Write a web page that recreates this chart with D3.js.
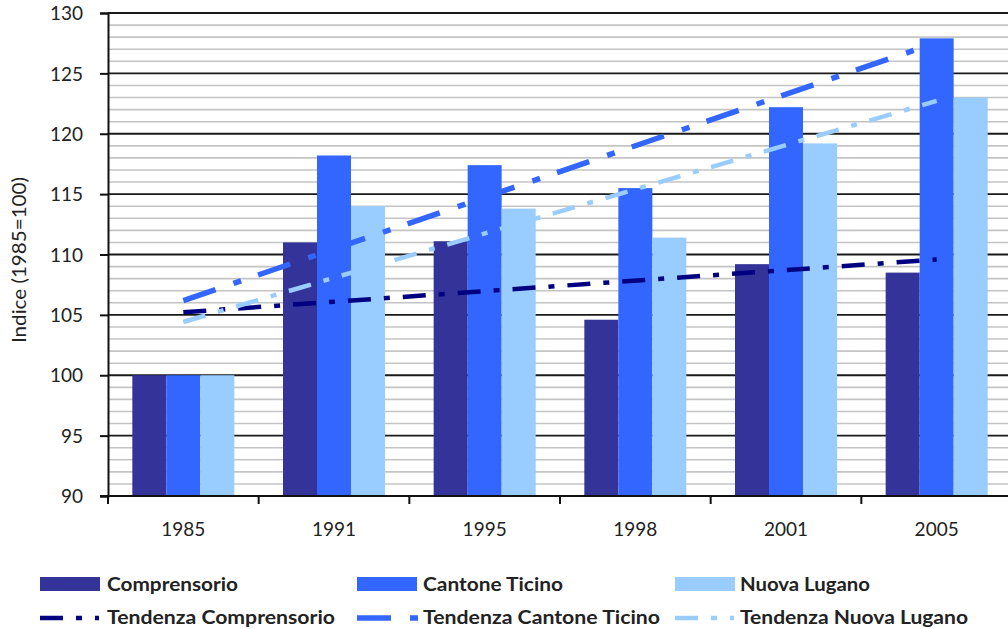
<!DOCTYPE html>
<html>
<head>
<meta charset="utf-8">
<script src="https://cdn.jsdelivr.net/npm/d3@7"></script>
<style>
  html, body { margin: 0; padding: 0; background: #fff; }
  svg { display: block; }
  text { font-family: "Lato", "Open Sans", sans-serif; fill: #222; }
</style>
</head>
<body>
<svg id="chart" width="1008" height="629"></svg>
<script>
// Index values, 1985 = 100
const years = ["1985", "1991", "1995", "1998", "2001", "2005"];
const seriesNames = ["Comprensorio", "Cantone Ticino", "Nuova Lugano"];
const comprensorio = [100, 111.0, 111.1, 104.6, 109.2, 108.5];
const cantoneTicino = [100, 118.2, 117.4, 115.5, 122.2, 127.9];
const nuovaLugano = [100, 114.0, 113.8, 111.4, 119.2, 123.0];
const yTicks = [90, 95, 100, 105, 110, 115, 120, 125, 130];

const seriesValues = [comprensorio, cantoneTicino, nuovaLugano];
const barColors = ["#333399", "#3366FF", "#99CCFF"];
const trendColors = ["#000080", "#3366FF", "#99CCFF"];
const trendWidths = [4.5, 5.5, 4.5];
const trendDash = ["23 13 6 13", "34 19 8 18", "23 13 6 13"];

const svg = d3.select("#chart");
const plotLeft = 108, plotRight = 1012, plotTop = 13, plotBottom = 496;

const x = d3.scaleBand().domain(years).range([plotLeft, plotRight]).paddingInner(0).paddingOuter(0);
const bw = x.bandwidth();
const xs = d3.scaleBand().domain(seriesNames).range([bw * 0.1615, bw * 0.8385]).padding(0);
const y = d3.scaleLinear().domain([90, 130]).range([plotBottom, plotTop]);

// Minor grid every unit, major grid on labelled ticks
const minor = d3.range(91, 130).filter(v => v % 5 !== 0);
svg.append("g").selectAll("line").data(minor).join("line")
  .attr("x1", plotLeft).attr("x2", 1008)
  .attr("y1", d => y(d)).attr("y2", d => y(d))
  .attr("stroke", "#c4c4c4").attr("stroke-width", 1.6);
svg.append("g").selectAll("line").data(yTicks.filter(v => v > 90)).join("line")
  .attr("x1", plotLeft).attr("x2", 1008)
  .attr("y1", d => y(d)).attr("y2", d => y(d))
  .attr("stroke", "#1a1a1a").attr("stroke-width", 1.8);

// Bars
const bars = svg.append("g");
seriesValues.forEach((vals, si) => {
  bars.append("g").selectAll("rect").data(years).join("rect")
    .attr("x", (d) => x(d) + xs(seriesNames[si]))
    .attr("width", xs.bandwidth())
    .attr("y", (d, i) => y(vals[i]))
    .attr("height", (d, i) => y(90) - y(vals[i]))
    .attr("fill", barColors[si]);
});

// Axes
const yAxis = d3.axisLeft(y).tickValues(yTicks).tickSize(8).tickPadding(17);
const gy = svg.append("g").attr("transform", `translate(${plotLeft},0)`).call(yAxis);
gy.select(".domain").attr("stroke", "#111").attr("stroke-width", 2);
gy.selectAll(".tick line").attr("stroke", "#111").attr("stroke-width", 2);
gy.selectAll(".tick text").attr("font-size", 19).attr("fill", "#2a2a2a")
  .style("font-family", "Lato, sans-serif").attr("dy", "0.35em");

const xAxisG = svg.append("g").attr("transform", `translate(0,${plotBottom})`);
xAxisG.append("line").attr("x1", 100).attr("x2", 1008).attr("y1", 0).attr("y2", 0)
  .attr("stroke", "#111").attr("stroke-width", 2);
xAxisG.selectAll(".xt").data(years).join("line").attr("class", "xt")
  .attr("x1", d => x(d)).attr("x2", d => x(d)).attr("y1", 0).attr("y2", 8)
  .attr("stroke", "#111").attr("stroke-width", 2);
xAxisG.selectAll(".xl").data(years).join("text").attr("class", "xl")
  .attr("x", d => x(d) + bw / 2).attr("y", 40)
  .attr("text-anchor", "middle").attr("font-size", 19).attr("fill", "#2a2a2a").text(d => d);

// Linear trend (least squares over category index)
function trend(vals) {
  const n = vals.length;
  const xi = d3.range(1, n + 1);
  const mx = d3.mean(xi), my = d3.mean(vals);
  const sxy = d3.sum(xi, (v, i) => (v - mx) * (vals[i] - my));
  const sxx = d3.sum(xi, v => (v - mx) * (v - mx));
  const b = sxy / sxx, a = my - b * mx;
  return [a + b * 1, a + b * n];
}
const trends = svg.append("g");
seriesValues.forEach((vals, si) => {
  const [v0, v1] = trend(vals);
  trends.append("line")
    .attr("x1", x(years[0]) + bw / 2).attr("y1", y(v0))
    .attr("x2", x(years[years.length - 1]) + bw / 2).attr("y2", y(v1))
    .attr("stroke", trendColors[si]).attr("stroke-width", trendWidths[si])
    .attr("stroke-dasharray", trendDash[si]);
});

// Y axis title
svg.append("text")
  .attr("transform", "translate(26,260) rotate(-90)")
  .attr("text-anchor", "middle").attr("font-size", 18.5)
  .attr("textLength", 166).attr("lengthAdjust", "spacingAndGlyphs")
  .text("Indice (1985=100)");

// Legend
const legX = [40, 357, 675];
const legTextX = [107, 423, 740];
const row1W = [131, 140, 130];
const row2W = [228, 237, 228];
const sampleLen = [59, 61, 59];
const lg = svg.append("g");
seriesNames.forEach((name, i) => {
  lg.append("rect").attr("x", legX[i]).attr("y", 577).attr("width", 60).attr("height", 14)
    .attr("fill", barColors[i]);
  lg.append("text").attr("x", legTextX[i]).attr("y", 591)
    .attr("font-size", 18).attr("font-weight", "bold").attr("fill", "#111")
    .attr("textLength", row1W[i]).attr("lengthAdjust", "spacingAndGlyphs")
    .text(name);
  lg.append("line").attr("x1", legX[i]).attr("x2", legX[i] + sampleLen[i])
    .attr("y1", 618).attr("y2", 618)
    .attr("stroke", trendColors[i]).attr("stroke-width", trendWidths[i])
    .attr("stroke-dasharray", trendDash[i]);
  lg.append("text").attr("x", legTextX[i]).attr("y", 624)
    .attr("font-size", 18).attr("font-weight", "bold").attr("fill", "#111")
    .attr("textLength", row2W[i]).attr("lengthAdjust", "spacingAndGlyphs")
    .text("Tendenza " + name);
});
</script>
</body>
</html>
